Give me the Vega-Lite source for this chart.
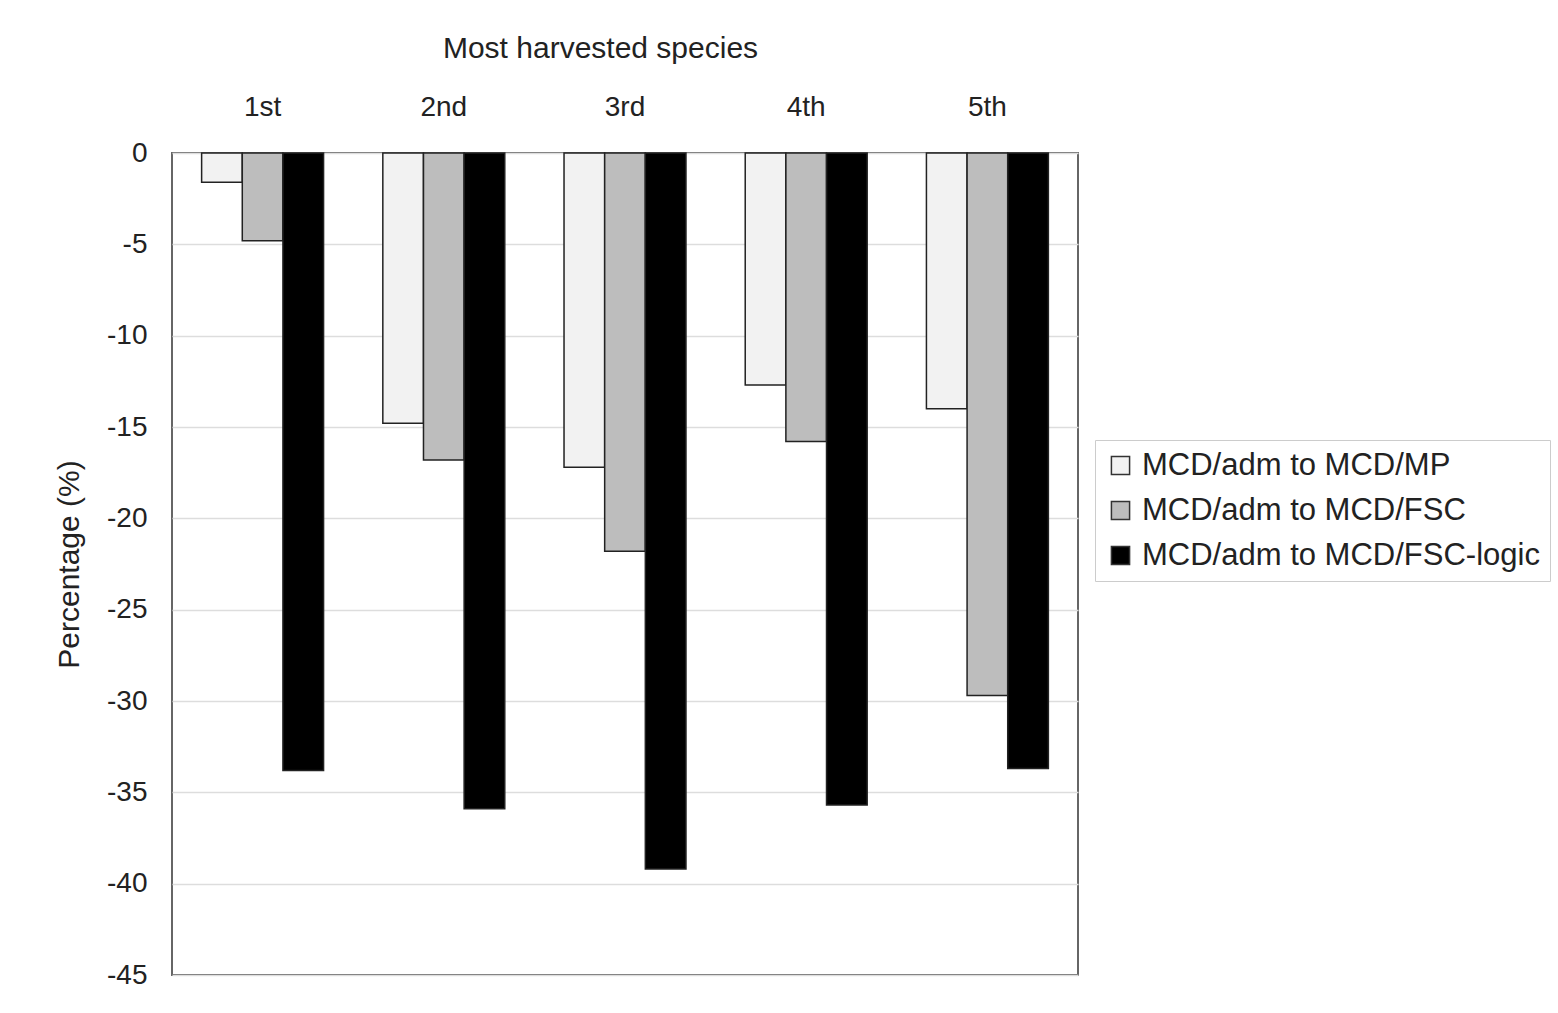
{
  "$schema": "https://vega.github.io/schema/vega-lite/v6.json",
  "width": 906,
  "height": 822,
  "autosize": {"type": "none"},
  "padding": {"left": 172, "top": 153, "right": 480, "bottom": 38},
  "background": "white",
  "config": {
    "view": {"stroke": "#666", "strokeWidth": 2},
    "font": "Liberation Sans"
  },
  "data": {
    "values": [
      {"rank": "1st", "series": "MCD/adm to MCD/MP", "value": -1.6},
      {"rank": "1st", "series": "MCD/adm to MCD/FSC", "value": -4.8},
      {"rank": "1st", "series": "MCD/adm to MCD/FSC-logic", "value": -33.8},
      {"rank": "2nd", "series": "MCD/adm to MCD/MP", "value": -14.8},
      {"rank": "2nd", "series": "MCD/adm to MCD/FSC", "value": -16.8},
      {"rank": "2nd", "series": "MCD/adm to MCD/FSC-logic", "value": -35.9},
      {"rank": "3rd", "series": "MCD/adm to MCD/MP", "value": -17.2},
      {"rank": "3rd", "series": "MCD/adm to MCD/FSC", "value": -21.8},
      {"rank": "3rd", "series": "MCD/adm to MCD/FSC-logic", "value": -39.2},
      {"rank": "4th", "series": "MCD/adm to MCD/MP", "value": -12.7},
      {"rank": "4th", "series": "MCD/adm to MCD/FSC", "value": -15.8},
      {"rank": "4th", "series": "MCD/adm to MCD/FSC-logic", "value": -35.7},
      {"rank": "5th", "series": "MCD/adm to MCD/MP", "value": -14.0},
      {"rank": "5th", "series": "MCD/adm to MCD/FSC", "value": -29.7},
      {"rank": "5th", "series": "MCD/adm to MCD/FSC-logic", "value": -33.7}
    ]
  },
  "mark": {"type": "bar", "stroke": "#222", "strokeWidth": 1.5},
  "encoding": {
    "x": {
      "field": "rank",
      "type": "nominal",
      "sort": ["1st", "2nd", "3rd", "4th", "5th"],
      "scale": {"paddingInner": 0.327, "paddingOuter": 0.1635},
      "axis": {
        "orient": "top",
        "title": "Most harvested species",
        "titleFontSize": 30,
        "titleFontWeight": "normal",
        "titleColor": "#222",
        "titlePadding": 30,
        "titleX": 428,
        "titleAlign": "center",
        "labelFontSize": 28,
        "labelColor": "#222",
        "labelAngle": 0,
        "labelPadding": 32,
        "ticks": false,
        "domain": false
      }
    },
    "xOffset": {
      "field": "series",
      "type": "nominal",
      "sort": ["MCD/adm to MCD/MP", "MCD/adm to MCD/FSC", "MCD/adm to MCD/FSC-logic"],
      "scale": {"paddingInner": 0, "paddingOuter": 0}
    },
    "y": {
      "field": "value",
      "type": "quantitative",
      "scale": {"domain": [-45, 0], "nice": false, "zero": false},
      "axis": {
        "values": [0, -5, -10, -15, -20, -25, -30, -35, -40, -45],
        "labelExpr": "'' + datum.value",
        "title": "Percentage (%)",
        "titleFontSize": 30,
        "titleFontWeight": "normal",
        "titleColor": "#222",
        "titlePadding": 22,
        "labelFontSize": 28,
        "labelColor": "#222",
        "labelPadding": 25,
        "ticks": false,
        "domain": false,
        "gridColor": "#dddddd",
        "gridWidth": 1.5
      }
    },
    "color": {
      "field": "series",
      "type": "nominal",
      "sort": ["MCD/adm to MCD/MP", "MCD/adm to MCD/FSC", "MCD/adm to MCD/FSC-logic"],
      "scale": {
        "domain": ["MCD/adm to MCD/MP", "MCD/adm to MCD/FSC", "MCD/adm to MCD/FSC-logic"],
        "range": ["#f2f2f2", "#bdbdbd", "#000000"]
      },
      "legend": {
        "orient": "none",
        "legendX": 923,
        "legendY": 287,
        "title": null,
        "labelFontSize": 31,
        "labelColor": "#222",
        "symbolType": "square",
        "symbolSize": 330,
        "symbolStrokeColor": "#333",
        "symbolStrokeWidth": 1.5,
        "rowPadding": 13,
        "labelOffset": 6,
        "strokeColor": "#cccccc",
        "padding": 10,
        "labelLimit": 600
      }
    }
  }
}
